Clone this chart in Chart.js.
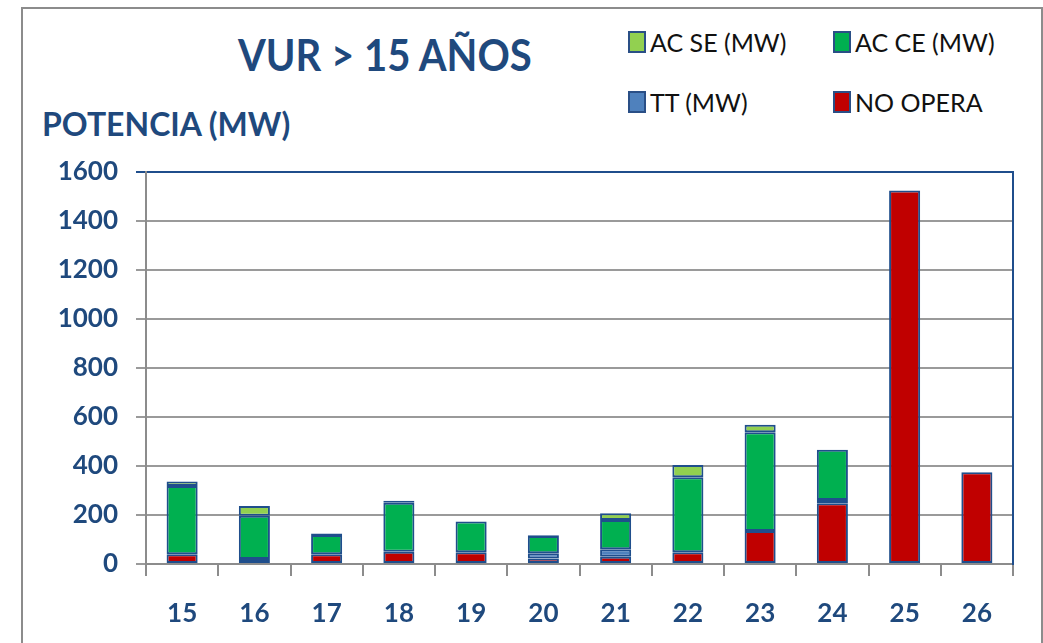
<!DOCTYPE html>
<html>
<head>
<meta charset="utf-8">
<script src="https://cdn.jsdelivr.net/npm/chart.js@4"></script>
<style>
  body { margin: 0; background: #fff; }
  #wrap { position: relative; width: 1043px; height: 643px; overflow: hidden; font-family: Lato, "Open Sans", sans-serif; }
  #frame { position: absolute; left: 21px; top: 7px; width: 1018px; height: 660px; border: 2px solid #8c8c8c; }
  #title { position: absolute; left: 238px; top: 28px; font-size: 44px; font-weight: bold; color: #1f497d; white-space: nowrap; transform: scaleX(0.91); transform-origin: left top; }
  #ytitle { position: absolute; left: 42px; top: 104px; font-size: 32px; font-weight: bold; color: #1f497d; white-space: nowrap; }
  .leg { position: absolute; font-size: 25px; color: #111; white-space: nowrap; }
  .leg i { display: inline-block; width: 14px; height: 18px; border: 2px solid #2a4f86; margin-right: 4px; vertical-align: -1px; }
  canvas { position: absolute; left: 0; top: 0; }
</style>
</head>
<body>
<div id="wrap">
  <div id="frame"></div>
  <div id="title">VUR &gt; 15 AÑOS</div>
  <div id="ytitle">POTENCIA (MW)</div>
  <div class="leg" style="left:628px;top:27px"><i style="background:#92d050"></i>AC SE (MW)</div>
  <div class="leg" style="left:833px;top:27px"><i style="background:#00b050"></i>AC CE (MW)</div>
  <div class="leg" style="left:628px;top:87px"><i style="background:#4f81bd"></i>TT (MW)</div>
  <div class="leg" style="left:833px;top:87px"><i style="background:#c00000"></i>NO OPERA</div>
  <canvas id="vur" width="1043" height="643"></canvas>
</div>
<script>
const categories = ['15', '16', '17', '18', '19', '20', '21', '22', '23', '24', '25', '26'];
const noOpera = [40, 8, 40, 50, 48, 22, 30, 48, 135, 248, 1524, 374];
const tt      = [0, 12, 0, 0, 0, 22, 30, 0, 0, 13, 0, 0];
const acCE    = [278, 177, 78, 200, 125, 70, 120, 306, 403, 205, 0, 0];
const acSE    = [19, 40, 7, 8, 0, 3, 27, 50, 30, 0, 0, 0];
const yTicks  = [0, 200, 400, 600, 800, 1000, 1200, 1400, 1600];

const blueText = '#1f497d';
const edge = '#1f4e8c';

const ctx = document.getElementById('vur');

new Chart(ctx, {
  type: 'bar',
  data: {
    labels: categories,
    datasets: [
      { label: 'NO OPERA', data: noOpera, backgroundColor: '#c00000' },
      { label: 'TT (MW)', data: tt, backgroundColor: '#4f81bd' },
      { label: 'AC CE (MW)', data: acCE, backgroundColor: '#00b050' },
      { label: 'AC SE (MW)', data: acSE, backgroundColor: '#92d050' }
    ].map(d => Object.assign(d, {
      borderColor: edge,
      borderWidth: c => (c.raw ? 2 : 0),
      borderSkipped: false,
      barPercentage: 0.43,
      categoryPercentage: 1
    }))
  },
  options: {
    responsive: false,
    animation: false,
    layout: {
      padding: { left: 0, top: 172, right: 30, bottom: 0 }
    },
    plugins: {
      legend: { display: false },
      tooltip: { enabled: false }
    },
    scales: {
      x: {
        stacked: true,
        afterFit: s => { s.height = 79; },
        border: { color: '#8c8c8c', width: 2 },
        grid: {
          offset: true,
          drawOnChartArea: false,
          drawTicks: true,
          tickLength: 12,
          color: '#8c8c8c',
          lineWidth: 2
        },
        ticks: {
          padding: 22,
          color: blueText,
          font: { family: 'Lato', size: 26, weight: 'bold' }
        }
      },
      y: {
        stacked: true,
        min: 0,
        max: 1600,
        afterFit: s => { s.width = 146; },
        afterBuildTicks: s => { s.ticks = yTicks.map(v => ({ value: v })); },
        border: { color: '#8c8c8c', width: 2 },
        grid: {
          color: c => c.tick && c.tick.value === 1600 ? edge : '#9a9a9a',
          lineWidth: 2,
          tickLength: 10
        },
        ticks: {
          padding: 18,
          color: blueText,
          font: { family: 'Lato', size: 26, weight: 'bold' },
          callback: v => String(v)
        }
      },
      y2: {
        position: 'right',
        min: 0,
        max: 1600,
        afterFit: s => { s.width = 0; },
        border: { color: edge, width: 2 },
        grid: { drawOnChartArea: false, drawTicks: false },
        ticks: { display: false }
      }
    }
  }
});
</script>
</body>
</html>
